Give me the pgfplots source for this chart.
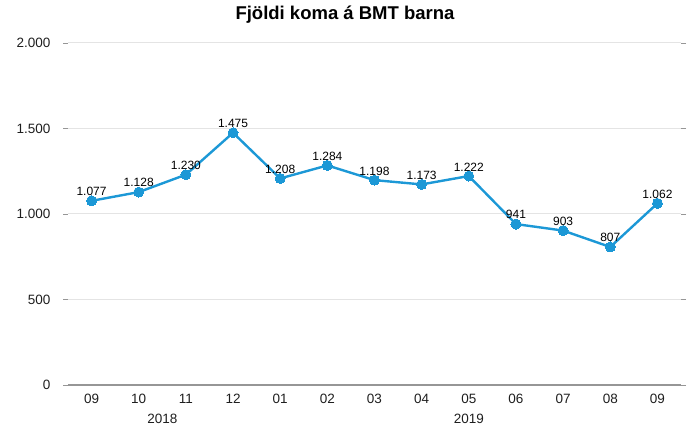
\documentclass[border=0pt]{standalone}
\usepackage{pgfplots}
\pgfplotsset{compat=1.18}
\usepackage{fontspec}
\setmainfont{Liberation Sans}
\definecolor{lineblue}{RGB}{28,152,214}
\definecolor{gridgray}{RGB}{228,228,228}
\definecolor{basegray}{RGB}{150,150,150}
\definecolor{txt}{RGB}{30,30,30}
\begin{document}
\begin{tikzpicture}
\begin{axis}[
  at={(68pt,40pt)}, anchor=south west,
  scale only axis, width=613pt, height=342pt,
  xmin=-0.5, xmax=12.5, ymin=0, ymax=2000,
  xtick={0,...,12},
  xticklabels={09,10,11,12,01,02,03,04,05,06,07,08,09},
  ytick={0,500,1000,1500,2000},
  /pgf/number format/.cd, 1000 sep={.}, assume math mode=true,
  /pgfplots/.cd,
  axis line style={draw=none},
  ymajorgrids, grid style={gridgray, line width=1pt},
  tick align=outside, major tick length=5pt,
  y tick style={basegray, line width=0.8pt},
  x tick style={draw=none},
  tick label style={font=\fontsize{13.5}{14}\selectfont, text=txt},
  yticklabel style={xshift=-9pt},
  xticklabel style={yshift=-0.5pt},
  clip=false,
]
\draw[basegray, line width=1.6pt] (axis cs:-0.5,0) -- (axis cs:12.5,0);
\addplot[lineblue, line width=2.4pt, mark=*, mark size=5pt,
  mark options={fill=lineblue, draw=lineblue, line width=0pt},
  nodes near coords,
  every node near coord/.style={font=\fontsize{12}{12}\selectfont, text=black, anchor=south, inner sep=0pt, yshift=5pt}]
  coordinates {(0,1077) (1,1128) (2,1230) (3,1475) (4,1208) (5,1284) (6,1198) (7,1173) (8,1222) (9,941) (10,903) (11,807) (12,1062)};
\node[font=\fontsize{13.5}{14}\selectfont, text=txt] at ([yshift=-34pt]axis cs:1.5,0) {2018};
\node[font=\fontsize{13.5}{14}\selectfont, text=txt] at ([yshift=-34pt]axis cs:8,0) {2019};
\end{axis}
\node[font=\fontsize{18.5}{19}\selectfont\bfseries] at (345pt,410pt) {Fjöldi koma á BMT barna};
\pgfresetboundingbox
\path[use as bounding box] (0,0) rectangle (689pt,425pt);
\end{tikzpicture}
\end{document}
